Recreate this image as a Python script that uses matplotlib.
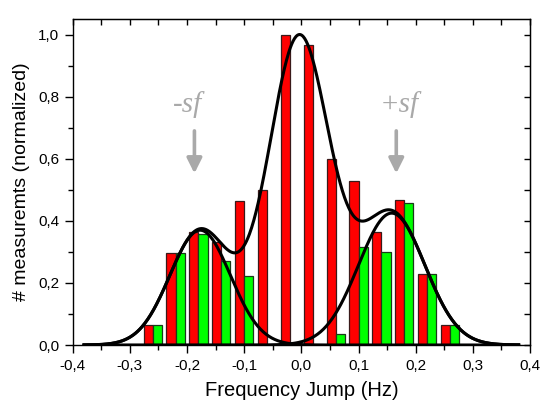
import numpy as np
import matplotlib
matplotlib.use("Agg")
import matplotlib.pyplot as plt
from matplotlib.ticker import MultipleLocator, FuncFormatter

# ---- data ----
bin_centers = [-0.26, -0.22, -0.18, -0.14, -0.10, -0.06, -0.02,
               0.02, 0.06, 0.10, 0.14, 0.18, 0.22, 0.26]
red_values = [0.063, 0.297, 0.365, 0.332, 0.465, 0.50, 1.0,
              0.967, 0.598, 0.53, 0.363, 0.466, 0.23, 0.063]
green_values = [0.063, 0.297, 0.358, 0.272, 0.222, 0.0, 0.0,
                0.0, 0.035, 0.315, 0.30, 0.457, 0.228, 0.063]

# Gaussian fit parameters (left side peak, central peak, right side peak)
fit_centers = [-0.177, -0.004, 0.158]
fit_amplitudes = [0.37, 0.99, 0.425]
fit_widths = [0.053, 0.053, 0.058]
fit_range = (-0.38, 0.38)

annot_texts = ["-sf", "+sf"]
annot_x = [-0.187, 0.166]

plt.rcParams['font.family'] = ['Liberation Sans', 'DejaVu Sans']

fig = plt.figure(figsize=(5.42, 4.08), dpi=100)
ax = fig.add_axes([0.134, 0.1544, 0.978 - 0.134, 0.953 - 0.1544])

bw = 0.016
xc = np.array(bin_centers)
red = np.array(red_values)
green = np.array(green_values)
ax.bar(xc - bw / 2, red, width=bw, color='#ff0000', edgecolor='#3a1a1a',
       linewidth=0.9, zorder=2)
m = green > 0
ax.bar(xc[m] + bw / 2, green[m], width=bw, color='#00ff00', edgecolor='#1a3a1a',
       linewidth=0.9, zorder=2)

xs = np.linspace(fit_range[0], fit_range[1], 600)
comps = [a * np.exp(-0.5 * ((xs - c) / w) ** 2)
         for c, a, w in zip(fit_centers, fit_amplitudes, fit_widths)]
total = comps[0] + comps[1] + comps[2]
ax.plot(xs, total, color='black', lw=2.2, zorder=3)
ax.plot(xs, comps[0], color='black', lw=2.2, zorder=3)
ax.plot(xs, comps[2], color='black', lw=2.2, zorder=3)

gray = '#a9a9a9'
for t, x in zip(annot_texts, annot_x):
    ax.text(x - 0.012 if t.startswith('-') else x + 0.005, 0.775, t,
            fontsize=21, color=gray, style='italic',
            family=['Liberation Serif', 'DejaVu Serif'],
            ha='center', va='center', zorder=4)
    ax.annotate('', xy=(x, 0.553), xytext=(x, 0.69),
                arrowprops=dict(arrowstyle='-|>,head_width=0.45,head_length=0.9',
                                lw=2.6, color=gray, shrinkA=0, shrinkB=0),
                zorder=4)

ax.set_xlim(-0.4, 0.4)
ax.set_ylim(0, 1.05)
ax.xaxis.set_major_locator(MultipleLocator(0.1))
ax.xaxis.set_minor_locator(MultipleLocator(0.05))
ax.yaxis.set_major_locator(MultipleLocator(0.2))
ax.yaxis.set_minor_locator(MultipleLocator(0.1))
fmt = FuncFormatter(lambda v, p: ('%.1f' % v).replace('.', ',').replace('-0,0', '0,0'))
ax.xaxis.set_major_formatter(fmt)
ax.yaxis.set_major_formatter(fmt)
ax.tick_params(which='major', direction='out', length=6, width=1.0, labelsize=11,
               colors='black')
ax.tick_params(which='minor', direction='out', length=3.5, width=1.0)
ax.tick_params(axis='x', pad=4)

for s in ax.spines.values():
    s.set_linewidth(1.0)

sec_y = ax.secondary_yaxis('right')
sec_y.yaxis.set_major_locator(MultipleLocator(0.1))
sec_y.tick_params(direction='in', length=4, width=1.0, labelright=False)
sec_x = ax.secondary_xaxis('top')
sec_x.xaxis.set_major_locator(MultipleLocator(0.05))
sec_x.tick_params(direction='in', length=4, width=1.0, labeltop=False)

ax.set_xlabel('Frequency Jump (Hz)', fontsize=14.5, labelpad=6)
ax.set_ylabel('# measuremts (normalized)', fontsize=14, labelpad=6)

fig.savefig('out.png', dpi=100)
